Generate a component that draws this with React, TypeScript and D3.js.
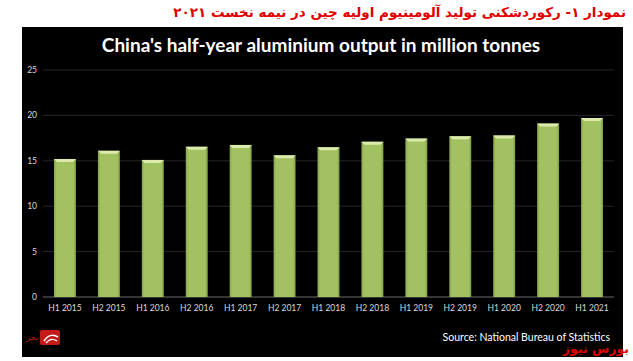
import React from 'react';
import * as d3 from 'd3';

// chart data
const periods = [
  'H1 2015', 'H2 2015', 'H1 2016', 'H2 2016', 'H1 2017', 'H2 2017', 'H1 2018',
  'H2 2018', 'H1 2019', 'H2 2019', 'H1 2020', 'H2 2020', 'H1 2021',
];
const output = [15.2, 16.1, 15.1, 16.55, 16.75, 15.6, 16.5, 17.1, 17.45, 17.7, 17.8, 19.1, 19.7];
const yTicks = [0, 5, 10, 15, 20, 25];

const title = "China's half-year aluminium output in million tonnes";
const faTitle = 'نمودار ۱- رکوردشکنی تولید آلومینیوم اولیه چین در نیمه نخست ۲۰۲۱';
const source = 'Source: National Bureau of Statistics';
const brand = 'بورس نیوز';

const App = () => {
  const width = 633;
  const height = 361;
  const plot = { left: 43, right: 614, top: 70, bottom: 297 };

  const xScale = d3
    .scaleBand()
    .domain(periods)
    .range([plot.left, plot.right])
    .paddingInner(0.5)
    .paddingOuter(0.25);

  const yScale = d3.scaleLinear().domain([0, 25]).range([plot.bottom, plot.top]);
  const bw = xScale.bandwidth();
  const bevel = 3;

  return (
    <svg
      width={width}
      height={height}
      style={{ position: 'absolute', left: 0, top: 0, background: '#fff' }}
      fontFamily="Lato, 'Open Sans', sans-serif"
    >
      <defs>
        <linearGradient id="barFill" x1="0" x2="1" y1="0" y2="0">
          <stop offset="0" stopColor="#86a44a" />
          <stop offset="0.12" stopColor="#a2c262" />
          <stop offset="0.88" stopColor="#a2c262" />
          <stop offset="1" stopColor="#7f9c45" />
        </linearGradient>
      </defs>

      {/* red persian heading */}
      <text x={626} y={17} textAnchor="end" fill="#e00000" fontSize={13.5} fontWeight="bold"
        fontFamily="'DejaVu Sans', sans-serif">
        {faTitle}
      </text>

      {/* dark panel */}
      <rect x={22} y={27} width={601} height={330} fill="#000" />

      <text x={321} y={52} textAnchor="middle" fill="#fff" fontSize={19} fontWeight="bold">
        {title}
      </text>

      {/* gridlines + y labels */}
      {yTicks.map((t) => (
        <g key={t}>
          <line
            x1={plot.left}
            x2={plot.right}
            y1={yScale(t)}
            y2={yScale(t)}
            stroke={t === 0 ? '#6b6b6b' : '#262626'}
            strokeWidth={1}
          />
          <text x={37} y={yScale(t) + 3} textAnchor="end" fill="#d9d9d9" fontSize={8.5}>
            {t}
          </text>
        </g>
      ))}

      {/* bars */}
      {periods.map((p, i) => {
        const x = xScale(p)!;
        const y = yScale(output[i]);
        return (
          <g key={p}>
            <rect x={x} y={y} width={bw} height={plot.bottom - y} fill="url(#barFill)" />
            <polygon
              points={`${x},${y} ${x + bw},${y} ${x + bw - bevel},${y + bevel} ${x + bevel},${y + bevel}`}
              fill="#dcebab"
            />
          </g>
        );
      })}

      {/* x labels */}
      {periods.map((p) => (
        <text
          key={p}
          x={xScale(p)! + bw / 2}
          y={311}
          textAnchor="middle"
          fill="#d9d9d9"
          fontSize={8.5}
        >
          {p}
        </text>
      ))}

      <text x={610} y={341} textAnchor="end" fill="#fff" fontSize={10.5}>
        {source}
      </text>

      {/* small logo mark */}
      <g>
        <rect x={40} y={330} width={20} height={15} rx={2} fill="#c41a1a" />
        <path d="M44 341 q6 -9 14 -4" stroke="#fff" strokeWidth={1.5} fill="none" />
        <path d="M46 343 q5 -6 11 -2" stroke="#fff" strokeWidth={1.2} fill="none" />
        <text x={38} y={340} textAnchor="end" fill="#c41a1a" fontSize={8}
          fontFamily="'DejaVu Sans', sans-serif">
          بجز
        </text>
      </g>

      <text x={629} y={353} textAnchor="end" fill="#e00000" fontSize={12.5} fontWeight="bold"
        fontFamily="'DejaVu Sans', sans-serif">
        {brand}
      </text>
    </svg>
  );
};

export default App;
